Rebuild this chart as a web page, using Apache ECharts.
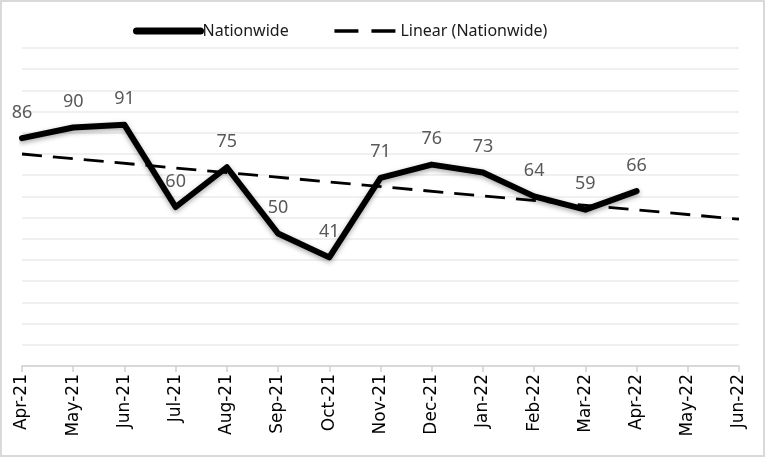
<!DOCTYPE html>
<html>
<head>
<meta charset="utf-8">
<script src="https://cdn.jsdelivr.net/npm/echarts@6/dist/echarts.min.js"></script>
<style>
  html, body { margin: 0; padding: 0; background: #fff; }
  #chart { width: 765px; height: 457px; }
</style>
</head>
<body>
<div id="chart"></div>
<script>
const months = ['Apr-21', 'May-21', 'Jun-21', 'Jul-21', 'Aug-21', 'Sep-21', 'Oct-21',
  'Nov-21', 'Dec-21', 'Jan-22', 'Feb-22', 'Mar-22', 'Apr-22', 'May-22', 'Jun-22']
const nationwide = [86, 90, 91, 60, 75, 50, 41, 71, 76, 73, 64, 59, 66]
// trend line: start (Apr-21) and end (Jun-22), straight between
const trendLine = [80, null, null, null, null, null, null, null, null, null, null, null, null, null, 55.4]

const chart = echarts.init(document.getElementById('chart'))
const option = {
  animation: false,
  backgroundColor: '#fff',
  graphic: [{
    type: 'rect',
    shape: { x: 1, y: 1, width: 763, height: 455 },
    style: { fill: 'none', stroke: '#d9d9d9', lineWidth: 2 },
    silent: true
  }],
  legend: {
    top: 18,
    left: 128,
    itemWidth: 64,
    itemHeight: 12,
    itemGap: 44,
    textStyle: { fontFamily: 'Noto Sans', fontSize: 16, color: '#1a1a1a', padding: [0, 0, 0, -3] },
    data: [
      {
        name: 'Nationwide',
        itemStyle: { opacity: 0 },
        lineStyle: { width: 7, color: '#000', cap: 'round', shadowBlur: 0 }
      },
      {
        name: 'Linear (Nationwide)',
        itemStyle: { opacity: 0 },
        lineStyle: { width: 3.5, color: '#000', type: [24, 13] }
      }
    ]
  },
  grid: { left: 22, right: 26, top: 48, bottom: 91 },
  xAxis: {
    type: 'category',
    boundaryGap: false,
    data: months,
    axisLine: { lineStyle: { color: '#d0d0d0', width: 1.5 } },
    axisTick: { show: true, length: 6, lineStyle: { color: '#d0d0d0', width: 1.5 } },
    axisLabel: {
      rotate: 90,
      margin: 8,
      color: '#000',
      fontFamily: 'DejaVu Sans',
      fontSize: 17
    }
  },
  yAxis: {
    type: 'value',
    min: 0,
    max: 120,
    interval: 8,
    axisLabel: { show: false },
    axisLine: { show: false },
    axisTick: { show: false },
    splitLine: { lineStyle: { color: '#ebebeb', width: 1.5 } }
  },
  series: [
    {
      name: 'Nationwide',
      type: 'line',
      data: nationwide,
      symbol: 'circle',
      symbolSize: 1,
      showSymbol: true,
      lineStyle: {
        color: '#000',
        width: 6,
        cap: 'round',
        join: 'round',
        shadowBlur: 5,
        shadowColor: 'rgba(0,0,0,0.35)',
        shadowOffsetY: 2
      },
      itemStyle: { color: 'rgba(0,0,0,0)' },
      label: {
        show: true,
        position: 'top',
        distance: 16,
        color: '#595959',
        fontFamily: 'Noto Sans',
        fontSize: 18
      },
      z: 3
    },
    {
      name: 'Linear (Nationwide)',
      type: 'line',
      data: trendLine,
      connectNulls: true,
      symbol: 'none',
      lineStyle: { color: '#000', width: 2.8, type: [20, 11] },
      itemStyle: { color: 'rgba(0,0,0,0)' },
      z: 2
    }
  ]
}
chart.setOption(option)
</script>
</body>
</html>
